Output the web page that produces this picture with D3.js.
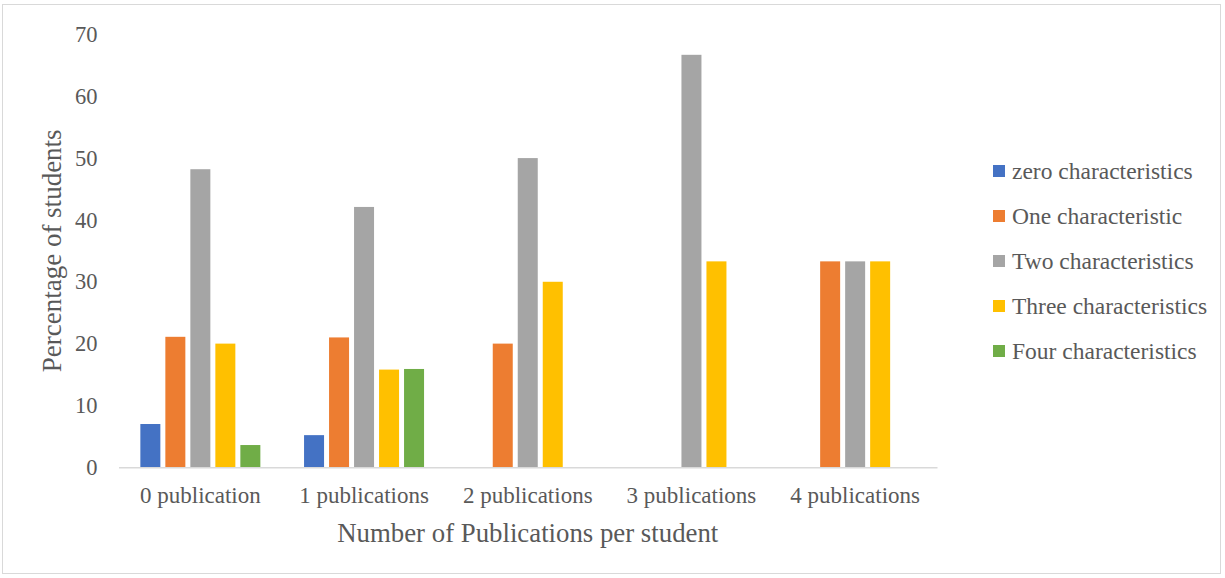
<!DOCTYPE html>
<html>
<head>
<meta charset="utf-8">
<script src="https://cdn.jsdelivr.net/npm/d3@7"></script>
<style>
  html, body { margin: 0; padding: 0; background: #ffffff; }
  svg { display: block; }
  text { font-family: "Liberation Serif", "Times New Roman", serif; fill: #595959; }
</style>
</head>
<body>
<svg id="chart" width="1225" height="578"></svg>
<script>
// Categories along the x axis
const categories = ["0 publication", "1 publications", "2 publications", "3 publications", "4 publications"];

// Series names (legend order) and their values, one per category (percent of students)
const seriesNames = ["zero characteristics", "One characteristic", "Two characteristics", "Three characteristics", "Four characteristics"];
const zeroChar  = [7.0, 5.2, 0, 0, 0];
const oneChar   = [21.1, 21.0, 20.0, 0, 33.3];
const twoChar   = [48.2, 42.1, 50.0, 66.7, 33.3];
const threeChar = [20.0, 15.8, 30.0, 33.3, 33.3];
const fourChar  = [3.6, 15.9, 0, 0, 0];

const yTicks = [0, 10, 20, 30, 40, 50, 60, 70];
const colors = ["#4472C4", "#ED7D31", "#A5A5A5", "#FFC000", "#70AD47"];

const seriesValues = [zeroChar, oneChar, twoChar, threeChar, fourChar];
const serif = '"Liberation Serif", "Times New Roman", serif';

const svg = d3.select("#chart");

// chart frame
svg.append("rect")
  .attr("x", 2.5).attr("y", 4.5)
  .attr("width", 1218).attr("height", 569)
  .attr("fill", "#ffffff")
  .attr("stroke", "#D9D9D9")
  .attr("stroke-width", 1);

const plot = { left: 118.5, right: 937, top: 34.4, bottom: 467.3 };

const x = d3.scaleBand()
  .domain(categories)
  .range([plot.left, plot.right])
  .paddingInner(0)
  .paddingOuter(0);

const y = d3.scaleLinear()
  .domain([0, 70])
  .range([plot.bottom, plot.top]);

// position of each series within a category cluster
const barPitch = 25, barWidth = 20;
const inner = d3.scaleBand()
  .domain(seriesNames)
  .range([x.bandwidth() / 2 - 2.5 * barPitch, x.bandwidth() / 2 + 2.5 * barPitch]);

// bars
const groups = svg.append("g").selectAll("g")
  .data(categories)
  .join("g")
  .attr("transform", d => `translate(${x(d)},0)`);

groups.selectAll("rect")
  .data((c, ci) => seriesNames.map((s, si) => ({ s, si, v: seriesValues[si][ci] })))
  .join("rect")
  .filter(d => d.v > 0)
  .attr("x", d => inner(d.s) + (inner.bandwidth() - barWidth) / 2)
  .attr("width", barWidth)
  .attr("y", d => y(d.v))
  .attr("height", d => y(0) - y(d.v))
  .attr("fill", d => colors[d.si]);

// x axis line and category labels
const xAxis = svg.append("g")
  .attr("transform", `translate(0,${plot.bottom})`)
  .call(d3.axisBottom(x).tickSize(0).tickPadding(19));
xAxis.select(".domain").attr("stroke", "#D9D9D9").attr("stroke-width", 1.5);
xAxis.selectAll("text")
  .style("font-family", serif)
  .style("font-size", "23px")
  .attr("fill", "#595959");

// y axis tick labels (no line, no gridlines)
const yAxis = svg.append("g")
  .attr("transform", `translate(${plot.left},0)`)
  .call(d3.axisLeft(y).tickValues(yTicks).tickSize(0).tickPadding(21));
yAxis.select(".domain").remove();
yAxis.selectAll("text")
  .style("font-family", serif)
  .style("font-size", "22.5px")
  .attr("fill", "#595959");

// axis titles
svg.append("text")
  .attr("x", (plot.left + plot.right) / 2)
  .attr("y", 542)
  .attr("text-anchor", "middle")
  .style("font-size", "26.8px")
  .text("Number of Publications per student");

svg.append("text")
  .attr("transform", `translate(61,${(plot.top + plot.bottom) / 2}) rotate(-90)`)
  .attr("text-anchor", "middle")
  .style("font-size", "27px")
  .text("Percentage of students");

// legend
const legend = svg.append("g").attr("transform", "translate(993,171)");
const item = legend.selectAll("g")
  .data(seriesNames)
  .join("g")
  .attr("transform", (d, i) => `translate(0,${i * 45})`);
item.append("rect")
  .attr("x", 0).attr("y", -6)
  .attr("width", 12).attr("height", 12)
  .attr("fill", (d, i) => colors[i]);
item.append("text")
  .attr("x", 19)
  .attr("dy", "0.35em")
  .style("font-size", "23.5px")
  .text(d => d);
</script>
</body>
</html>
